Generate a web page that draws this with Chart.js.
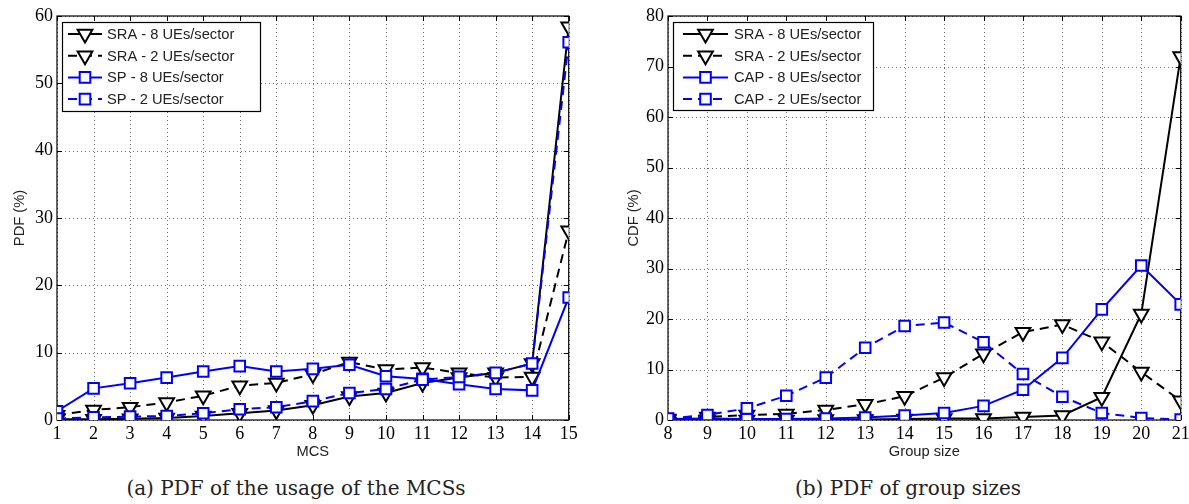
<!DOCTYPE html>
<html>
<head>
<meta charset="utf-8">
<script src="https://cdn.jsdelivr.net/npm/chart.js@4.4.1/dist/chart.umd.min.js"></script>
<style>
    body { margin: 0; background: #fff; width: 1189px; height: 504px; overflow: hidden; position: relative; }
    .panel { position: absolute; top: 0; height: 470px; }
    #wrapA { left: 0; width: 600px; }
    #wrapB { left: 600px; width: 595px; }
    .caption { position: absolute; top: 478px; font-family: "DejaVu Serif", serif; font-size: 20px; line-height: 20px;
               color: #222; white-space: nowrap; transform: translateX(-50%); }
</style>
</head>
<body>
<div class="panel" id="wrapA"><canvas id="mcsChart" width="600" height="470"></canvas></div>
<div class="panel" id="wrapB"><canvas id="groupChart" width="595" height="470"></canvas></div>
<div class="caption" style="left:296px">(a) PDF of the usage of the MCSs</div>
<div class="caption" style="left:908px">(b) PDF of group sizes</div>

<script>
// (a) MCS usage, percent
const mcsLevels = [1, 2, 3, 4, 5, 6, 7, 8, 9, 10, 11, 12, 13, 14, 15];
const sra8Mcs = [0.1, 0.1, 0.2, 0.3, 0.6, 1.0, 1.4, 2.2, 3.5, 4.0, 5.5, 6.3, 7.0, 8.4, 58.4];
const sra2Mcs = [0.7, 1.5, 1.9, 2.6, 3.6, 5.1, 5.5, 6.8, 8.6, 7.5, 7.8, 7.0, 6.3, 6.4, 28.1];
const sp8Mcs = [1.3, 4.7, 5.45, 6.3, 7.2, 8.0, 7.2, 7.6, 8.2, 6.5, 6.1, 5.3, 4.6, 4.4, 18.2];
const sp2Mcs = [0.2, 0.4, 0.5, 0.6, 1.0, 1.6, 1.9, 2.8, 4.0, 4.6, 6.0, 6.4, 7.0, 8.4, 56.1];

// (b) group sizes, percent
const groupSizes = [8, 9, 10, 11, 12, 13, 14, 15, 16, 17, 18, 19, 20, 21];
const sra8Group = [0, 0, 0, 0, 0.1, 0.1, 0.2, 0.3, 0.3, 0.6, 0.9, 4.5, 21.0, 72.0];
const sra2Group = [0.2, 0.6, 1.0, 1.2, 2.0, 3.1, 4.7, 8.4, 13.1, 17.4, 18.9, 15.5, 9.5, 3.8];
const cap8Group = [0.2, 0.3, 0.2, 0.2, 0.3, 0.5, 0.9, 1.4, 2.8, 6.0, 12.3, 21.9, 30.6, 22.9];
const cap2Group = [0.3, 1.0, 2.3, 4.8, 8.4, 14.3, 18.6, 19.3, 15.4, 9.1, 4.6, 1.4, 0.4, 0.1];

const SANS = "'Liberation Sans', Arial, sans-serif";
const SERIF = "'Liberation Serif', 'Times New Roman', serif";
const DASH = [9, 6];

function toPoints(xs, ys) {
    return xs.map((x, i) => ({ x: x, y: ys[i] }));
}

function series(label, xs, ys, color, dashed, marker, order) {
    const tri = marker === 'tri';
    return {
        label: label,
        data: toPoints(xs, ys),
        borderColor: color,
        borderWidth: 2,
        borderDash: dashed ? DASH : [],
        pointStyle: tri ? 'triangle' : 'rect',
        rotation: tri ? 180 : 0,
        pointRadius: tri ? 8.5 : 7.5,
        pointBorderWidth: 2,
        pointBorderColor: color,
        pointBackgroundColor: '#fff',
        tension: 0,
        order: order,
    };
}

// dotted grid, box round the axes and inward tick marks, matlab style
const axesBox = {
    id: 'axesBox',
    beforeDatasetsDraw(chart) {
        const { ctx, chartArea: a } = chart;
        const xs = chart.scales.x, ys = chart.scales.y;
        const xp = xs.ticks.map(t => Math.round(xs.getPixelForValue(t.value)) + 0.5);
        const yp = ys.ticks.map(t => Math.round(ys.getPixelForValue(t.value)) + 0.5);
        ctx.save();

        ctx.beginPath();
        ctx.setLineDash([1, 3]);
        ctx.strokeStyle = '#6f6f6f';
        ctx.lineWidth = 1;
        xp.forEach(px => { ctx.moveTo(px, a.top); ctx.lineTo(px, a.bottom); });
        yp.forEach(py => { ctx.moveTo(a.left, py); ctx.lineTo(a.right, py); });
        ctx.stroke();
        ctx.setLineDash([]);

        ctx.strokeStyle = '#000';
        ctx.lineWidth = 1.2;
        ctx.strokeRect(a.left, a.top, a.right - a.left, a.bottom - a.top);
        ctx.beginPath();
        xp.forEach(px => {
            ctx.moveTo(px, a.bottom); ctx.lineTo(px, a.bottom - 5);
            ctx.moveTo(px, a.top); ctx.lineTo(px, a.top + 5);
        });
        yp.forEach(py => {
            ctx.moveTo(a.left, py); ctx.lineTo(a.left + 5, py);
            ctx.moveTo(a.right, py); ctx.lineTo(a.right - 5, py);
        });
        ctx.lineWidth = 1;
        ctx.stroke();
        ctx.restore();
    }
};

function drawMarker(ctx, ds, x, y) {
    ctx.save();
    ctx.setLineDash([]);
    ctx.lineWidth = ds.pointBorderWidth;
    ctx.strokeStyle = ds.pointBorderColor;
    ctx.fillStyle = ds.pointBackgroundColor;
    ctx.beginPath();
    const r = ds.pointRadius;
    if (ds.pointStyle === 'triangle') {
        for (let k = 0; k < 3; k++) {
            const ang = Math.PI + k * 2 * Math.PI / 3;
            const vx = x + Math.sin(ang) * r, vy = y - Math.cos(ang) * r;
            if (k === 0) ctx.moveTo(vx, vy); else ctx.lineTo(vx, vy);
        }
        ctx.closePath();
    } else {
        const s = r * Math.SQRT1_2;
        ctx.rect(x - s, y - s, 2 * s, 2 * s);
    }
    ctx.fill();
    ctx.stroke();
    ctx.restore();
}

// framed legend in the top left corner of the plot
const boxLegend = {
    id: 'boxLegend',
    afterDatasetsDraw(chart, args, opts) {
        const { ctx, chartArea: a } = chart;
        const x0 = a.left + opts.dx, y0 = a.top + opts.dy;
        ctx.save();
        ctx.fillStyle = '#fff';
        ctx.fillRect(x0, y0, opts.w, opts.h);
        ctx.strokeStyle = '#000';
        ctx.lineWidth = 1.2;
        ctx.strokeRect(x0 + 0.5, y0 + 0.5, opts.w, opts.h);
        ctx.font = '14.7px ' + SANS;
        ctx.textBaseline = 'middle';
        chart.data.datasets.forEach((ds, i) => {
            const y = y0 + opts.first + i * opts.gap;
            ctx.beginPath();
            ctx.setLineDash(ds.borderDash);
            ctx.lineWidth = ds.borderWidth;
            ctx.strokeStyle = ds.borderColor;
            ctx.moveTo(x0 + opts.lineFrom, y);
            ctx.lineTo(x0 + opts.lineTo, y);
            ctx.stroke();
            ctx.setLineDash([]);
            drawMarker(ctx, ds, x0 + (opts.lineFrom + opts.lineTo) / 2, y);
            ctx.fillStyle = '#222';
            ctx.fillText(ds.label, x0 + opts.textX, y + 1);
        });
        ctx.restore();
    }
};

function buildChart(canvasId, datasets, xr, yMax, yTitle, xTitle, yWidth, yTitlePad, padRight, legend) {
    return new Chart(document.getElementById(canvasId), {
        type: 'line',
        data: { datasets: datasets },
        plugins: [axesBox, boxLegend],
        options: {
            responsive: false,
            animation: false,
            devicePixelRatio: 1,
            layout: { padding: { left: 0, right: padRight, top: 16, bottom: 0 } },
            plugins: {
                legend: { display: false },
                tooltip: { enabled: false },
                boxLegend: legend,
            },
            scales: {
                x: {
                    type: 'linear',
                    min: xr[0],
                    max: xr[1],
                    ticks: { stepSize: 1, color: '#000', padding: 3, font: { family: SERIF, size: 18 } },
                    grid: { display: false, drawTicks: false },
                    border: { display: false },
                    title: { display: true, text: xTitle, color: '#222', font: { family: SANS, size: 14.7 },
                             padding: { top: 0, bottom: 9 } },
                    afterFit(scale) { scale.height = 50; },
                },
                y: {
                    min: 0,
                    max: yMax,
                    ticks: { stepSize: 10, color: '#000', padding: 4, font: { family: SERIF, size: 18 } },
                    grid: { display: false, drawTicks: false },
                    border: { display: false },
                    title: { display: true, text: yTitle, color: '#222', font: { family: SANS, size: 14.7 },
                             padding: { top: yTitlePad, bottom: 0 } },
                    afterFit(scale) { scale.width = yWidth; },
                },
            },
        },
    });
}

buildChart('mcsChart', [
    series('SRA - 8 UEs/sector', mcsLevels, sra8Mcs, '#000', false, 'tri', 4),
    series('SRA - 2 UEs/sector', mcsLevels, sra2Mcs, '#000', true, 'tri', 3),
    series('SP - 8 UEs/sector', mcsLevels, sp8Mcs, '#0000ff', false, 'sq', 2),
    series('SP - 2 UEs/sector', mcsLevels, sp2Mcs, '#0000ff', true, 'sq', 1),
], [1, 15], 60, 'PDF (%)', 'MCS', 57, 11, 31.3,
   { dx: 5, dy: 6, w: 198, h: 89, first: 12, gap: 21.7, lineFrom: 6, lineTo: 40, textX: 45 });

buildChart('groupChart', [
    series('SRA - 8 UEs/sector', groupSizes, sra8Group, '#000', false, 'tri', 4),
    series('SRA - 2 UEs/sector', groupSizes, sra2Group, '#000', true, 'tri', 3),
    series('CAP - 8 UEs/sector', groupSizes, cap8Group, '#0000ff', false, 'sq', 2),
    series('CAP - 2 UEs/sector', groupSizes, cap2Group, '#0000ff', true, 'sq', 1),
], [8, 21], 80, 'CDF (%)', 'Group size', 68, 25, 14.3,
   { dx: 5, dy: 6, w: 200, h: 88, first: 12, gap: 21.7, lineFrom: 10, lineTo: 55, textX: 61 });
</script>
</body>
</html>
